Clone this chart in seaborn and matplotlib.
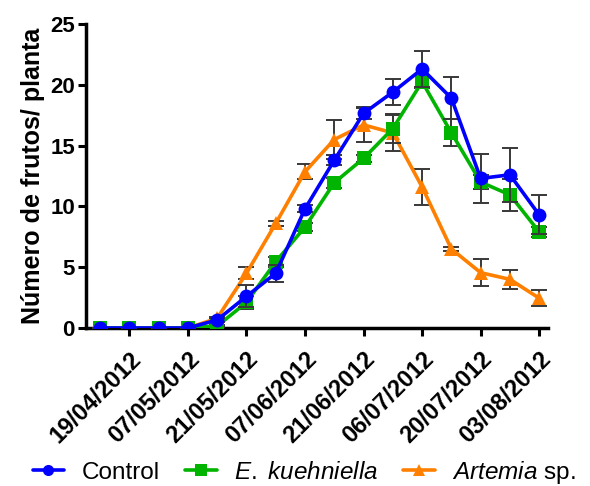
import matplotlib
matplotlib.use("Agg")
import matplotlib.pyplot as plt
import matplotlib.transforms as mtransforms
import seaborn as sns
import numpy as np
import pandas as pd
from matplotlib.lines import Line2D

sns.set_theme(style="ticks")
plt.rcParams['font.family'] = ['Liberation Sans', 'DejaVu Sans']
plt.rcParams['mathtext.fontset'] = 'custom'
plt.rcParams['mathtext.it'] = 'Liberation Sans:italic'
plt.rcParams['mathtext.rm'] = 'Liberation Sans'
for k in ["text.color", "axes.labelcolor", "xtick.color", "ytick.color", "axes.edgecolor"]:
    plt.rcParams[k] = "black"

tick_labels = ["19/04/2012", "07/05/2012", "21/05/2012", "07/06/2012",
               "21/06/2012", "06/07/2012", "20/07/2012", "03/08/2012"]
x_index = list(range(16))

control = [0, 0, 0, 0, 0.66, 2.6, 4.5, 9.8, 13.8, 17.65, 19.4, 21.3, 18.9, 12.3, 12.6, 9.3]
control_err = [0, 0, 0, 0, 0.2, 0.9, 0.7, 0.3, 0.4, 0.5, 1.1, 1.5, 1.75, 2.0, 2.2, 1.6]
ekueh = [0, 0, 0, 0, 0.16, 2.1, 5.45, 8.3, 11.95, 13.95, 16.4, 20.25, 16.05, 12.0, 10.95, 7.9]
ekueh_err = [0, 0, 0, 0, 0.1, 0.5, 0.4, 0.3, 0.4, 0.3, 1.2, 0.5, 1.1, 0.6, 1.3, 0.4]
artemia = [0, 0, 0, 0, 0.8, 4.5, 8.6, 12.85, 15.5, 16.7, 16.05, 11.6, 6.5, 4.55, 4.0, 2.45]
artemia_err = [0, 0, 0, 0, 0.1, 0.5, 0.2, 0.6, 1.6, 1.4, 1.5, 1.5, 0.2, 1.1, 0.8, 0.65]

series_names = ["Control", "E. kuehniella", "Artemia sp."]
legend_labels = ["Control", r"$\it{E.}$ $\it{kuehniella}$", r"$\it{Artemia}$ sp."]
colors = ["#0000FF", "#00B400", "#FF8000"]
markers = ["o", "s", "^"]
msizes = [10, 9.5, 10.5]

df = pd.DataFrame({
    "x": x_index * 3,
    "y": control + ekueh + artemia,
    "err": control_err + ekueh_err + artemia_err,
    "serie": sum([[n] * 16 for n in series_names], []),
})

fig = plt.figure(figsize=(5.9, 4.86), dpi=100)
ax = fig.add_axes([86/590, 1-328/486, (548-86)/590, (328-24)/486])

for i in [2, 1, 0]:
    name = series_names[i]
    sub = df[df.serie == name]
    z = 3 + (2 - i)
    ax.errorbar(sub.x, sub.y, yerr=sub.err, fmt="none", ecolor="#383838",
                elinewidth=1.4, capsize=5.5, capthick=1.4, zorder=z)
    sns.lineplot(data=sub, x="x", y="y", ax=ax, color=colors[i], marker=markers[i],
                 markersize=msizes[i], markeredgewidth=0, linewidth=2.6,
                 zorder=z, legend=False)

ax.set_xlim(-0.48, 15.3)
ax.set_ylim(0, 25)
ax.set_yticks([0, 5, 10, 15, 20, 25])
ax.set_xticks([1, 3, 5, 7, 9, 11, 13, 15])
ax.set_xticklabels(tick_labels, rotation=45, ha="right", rotation_mode="anchor",
                   fontsize=17, fontweight="bold")
offset = mtransforms.ScaledTranslation(5/100, -3/100, fig.dpi_scale_trans)
for lab in ax.get_xticklabels():
    lab.set_transform(lab.get_transform() + offset)
for lab in ax.get_yticklabels():
    lab.set_fontsize(16)
    lab.set_fontweight("bold")
ax.set_xlabel("")
ax.set_ylabel("Número de frutos/ planta", fontsize=18, fontweight="bold", labelpad=4)
for s in ["top", "right"]:
    ax.spines[s].set_visible(False)
for s in ["left", "bottom"]:
    ax.spines[s].set_linewidth(2.5)
ax.tick_params(axis="both", width=2.2, length=6, pad=2)
ax.tick_params(axis="x", pad=8)

handles = [Line2D([0], [0], color=colors[i], marker=markers[i], markersize=8,
                  markeredgewidth=0, linewidth=2.6) for i in range(3)]
fig.legend(handles, legend_labels, loc="center", ncol=3, frameon=False,
           fontsize=17.5, bbox_to_anchor=(304/590, 14/486), handlelength=1.3,
           columnspacing=1.05, handletextpad=0.7, borderpad=0, borderaxespad=0)

fig.savefig("out.png", dpi=100, facecolor="white")
